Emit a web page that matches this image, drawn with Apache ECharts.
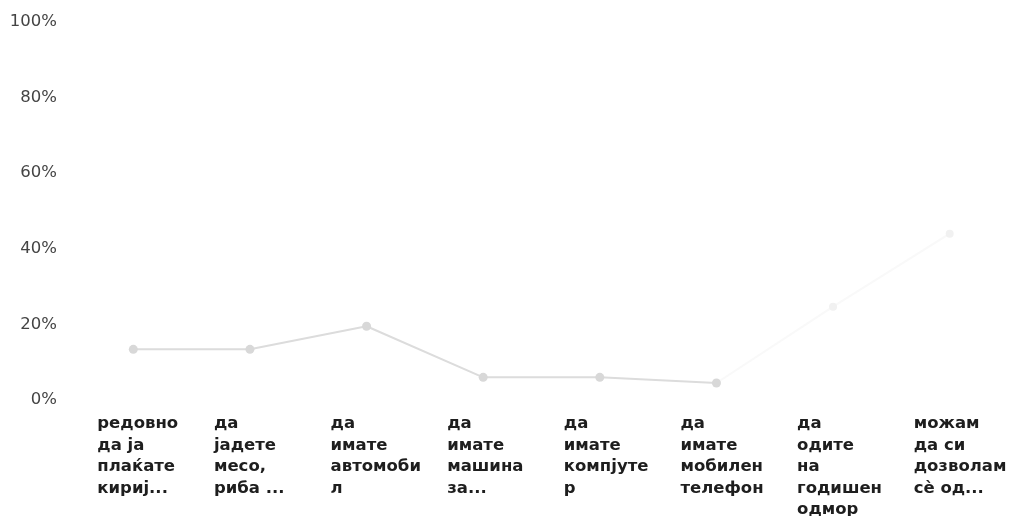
<!DOCTYPE html>
<html>
<head>
<meta charset="utf-8">
<script src="https://cdn.jsdelivr.net/npm/echarts@6/dist/echarts.min.js"></script>
<style>
  html, body { margin: 0; padding: 0; background: #fff; }
  #main { width: 1020px; height: 516px; }
</style>
</head>
<body>
<div id="main"></div>
<script>
var categories = [
    'редовно\nда ја\nплаќате\nкириј...',
    'да\nјадете\nмесо,\nриба ...',
    'да\nимате\nавтомоби\nл',
    'да\nимате\nмашина\nза...',
    'да\nимате\nкомпјуте\nр',
    'да\nимате\nмобилен\nтелефон',
    'да\nодите\nна\nгодишен\nодмор',
    'можам\nда си\nдозволам\nсè од...'
];
// clearly drawn part of the line
var mainValues = [13.4, 13.4, 19.5, 6, 6, 4.5, null, null];
// barely visible continuation
var faintValues = [null, null, null, null, null, 4.5, 24.7, 44];
var yTicks = [0, 20, 40, 60, 80, 100];

var chartDom = document.getElementById('main');
var myChart = echarts.init(chartDom);
var option;

option = {
    backgroundColor: '#fff',
    animation: false,
    grid: {
        left: 75,
        right: 12,
        top: 22,
        bottom: 116,
        containLabel: false,
        outerBoundsMode: 'none'
    },
    xAxis: {
        type: 'category',
        data: categories,
        boundaryGap: true,
        axisLine: { show: false },
        axisTick: { show: false },
        axisLabel: {
            interval: 0,
            margin: 13,
            align: 'center',
            formatter: function (v) {
                return v.split('\n').map(function (s) { return '{a|' + s + '}'; }).join('\n');
            },
            rich: {
                a: {
                    width: 72,
                    align: 'left',
                    fontFamily: 'DejaVu Sans',
                    fontSize: 16.5,
                    fontWeight: 'bold',
                    lineHeight: 21.5,
                    color: '#1e1e1e'
                }
            }
        }
    },
    yAxis: {
        type: 'value',
        min: yTicks[0],
        max: yTicks[yTicks.length - 1],
        interval: 20,
        axisLine: { show: false },
        axisTick: { show: false },
        splitLine: { show: false },
        axisLabel: {
            margin: 18,
            formatter: '{value}%',
            fontFamily: 'DejaVu Sans',
            fontSize: 16.5,
            color: '#444'
        }
    },
    series: [
        {
            name: 'faint',
            type: 'line',
            data: faintValues,
            symbol: 'circle',
            symbolSize: 8,
            lineStyle: { color: '#f9f9f9', width: 2 },
            itemStyle: { color: '#f1f1f1' }
        },
        {
            name: 'main',
            type: 'line',
            data: mainValues,
            symbol: 'circle',
            symbolSize: 9,
            lineStyle: { color: '#dcdcdc', width: 2 },
            itemStyle: { color: '#d8d8d8' }
        }
    ]
};

option && myChart.setOption(option);
</script>
</body>
</html>
